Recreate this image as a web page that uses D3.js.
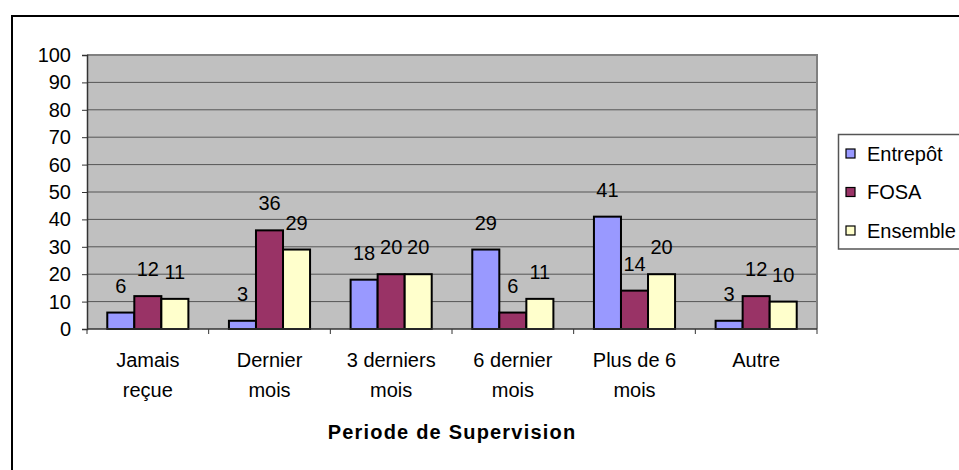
<!DOCTYPE html>
<html><head><meta charset="utf-8">
<script src="https://cdn.jsdelivr.net/npm/d3@7"></script>
<style>body{margin:0;background:#fff}svg{display:block}text{font-family:"Liberation Sans",Arial,sans-serif}</style>
</head><body><svg id="c" width="959" height="470"></svg>
<script>
const categories = [["Jamais","reçue"],["Dernier","mois"],["3 derniers","mois"],["6 dernier","mois"],["Plus de 6","mois"],["Autre"]];
const seriesNames = ["Entrepôt","FOSA","Ensemble"];
const entrepot = [6,3,18,29,41,3];
const fosa = [12,36,20,6,14,12];
const ensemble = [11,29,20,11,20,10];
const yTicks = [0,10,20,30,40,50,60,70,80,90,100];
const colors = ["#9999FF","#993366","#FFFFCC"];
const xTitle = "Periode de Supervision";

const series = [entrepot, fosa, ensemble];
const svg = d3.select("#c");
// outer frame
svg.append("rect").attr("x",12).attr("y",16).attr("width",1000).attr("height",600)
  .attr("fill","#fff").attr("stroke","#000").attr("stroke-width",2);

const L=87, R=817, T=55, B=329;
const y = d3.scaleLinear().domain([0,100]).range([B,T]);
const x0 = d3.scaleBand().domain(d3.range(categories.length)).range([L,R]).paddingInner(0).paddingOuter(0);
const bw = x0.bandwidth()/4.5;

svg.append("rect").attr("x",L).attr("y",T).attr("width",R-L).attr("height",B-T).attr("fill","#C0C0C0");
// gridlines
svg.append("g").selectAll("line").data(yTicks.filter(d=>d>0)).join("line")
  .attr("x1",L).attr("x2",R).attr("y1",d=>y(d)).attr("y2",d=>y(d))
  .attr("stroke","#555").attr("stroke-width",1);
// plot border top/right
svg.append("path").attr("d",`M${L},${T}H${R}V${B}`).attr("fill","none").attr("stroke","#808080").attr("stroke-width",2);

// bars
const g = svg.append("g");
series.forEach((vals,si)=>{
  g.selectAll(null).data(vals).join("rect")
    .attr("x",(d,i)=>x0(i)+bw*0.75+si*bw).attr("y",d=>y(d))
    .attr("width",bw).attr("height",d=>B-y(d))
    .attr("fill",colors[si]).attr("stroke","#000").attr("stroke-width",2);
});
// labels
series.forEach((vals,si)=>{
  g.selectAll(null).data(vals).join("text")
    .attr("x",(d,i)=>x0(i)+bw*0.75+si*bw+bw/2).attr("y",d=>y(d)-27)
    .attr("dy","0.35em").attr("text-anchor","middle").attr("font-size",20).attr("fill","#000")
    .text(d=>d);
});

// y axis
const ya = svg.append("g").attr("transform",`translate(${L},0)`)
  .call(d3.axisLeft(y).tickValues(yTicks).tickSize(5).tickPadding(11));
ya.select(".domain").attr("stroke","#333").attr("stroke-width",1.5);
ya.selectAll(".tick line").attr("stroke","#333");
ya.selectAll("text").attr("font-size",20).attr("fill","#000").attr("font-family","Liberation Sans, Arial, sans-serif");

// x axis
svg.append("line").attr("x1",L).attr("x2",R).attr("y1",B).attr("y2",B).attr("stroke","#333").attr("stroke-width",1.5);
svg.append("g").selectAll("line").data(d3.range(categories.length+1)).join("line")
  .attr("x1",i=>L+i*x0.bandwidth()).attr("x2",i=>L+i*x0.bandwidth()).attr("y1",B).attr("y2",B+5)
  .attr("stroke","#333");
const cl = svg.append("g").selectAll("text").data(categories).join("text")
  .attr("text-anchor","middle").attr("font-size",20).attr("fill","#000")
  .attr("transform",(d,i)=>`translate(${x0(i)+x0.bandwidth()/2},360)`);
cl.selectAll("tspan").data(d=>d).join("tspan").attr("x",0).attr("y",(d,j)=>j*30).attr("dy","0.35em").text(d=>d);

svg.append("text").attr("x",(L+R)/2).attr("y",432).attr("dy","0.35em").attr("text-anchor","middle")
  .attr("font-size",20).attr("font-weight","bold").attr("letter-spacing",1.2).text(xTitle);

// legend
const lg = svg.append("g");
lg.append("rect").attr("x",838.5).attr("y",134.5).attr("width",140).attr("height",114.5)
  .attr("fill","#fff").attr("stroke","#555").attr("stroke-width",1.5);
seriesNames.forEach((n,i)=>{
  const cy = 153.5 + i*38.5;
  lg.append("rect").attr("x",846).attr("y",cy-4.5).attr("width",9).attr("height",9)
    .attr("fill",colors[i]).attr("stroke","#000").attr("stroke-width",1.2);
  lg.append("text").attr("x",867).attr("y",cy).attr("dy","0.35em").attr("font-size",20).text(n);
});
</script></body></html>
